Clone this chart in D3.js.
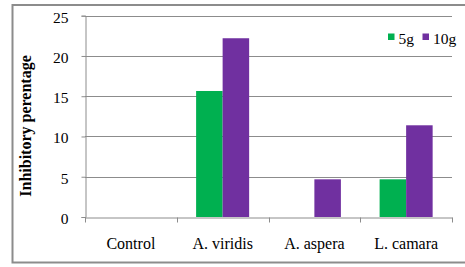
<!DOCTYPE html>
<html>
<head>
<meta charset="utf-8">
<script src="https://cdn.jsdelivr.net/npm/d3@7"></script>
<style>
  body { margin: 0; background: #fff; }
  svg text { font-family: "Liberation Serif", "Times New Roman", serif; fill: #000; }
</style>
</head>
<body>
<div id="chart"></div>
<script>
const categories = ["Control", "A. viridis", "A. aspera", "L. camara"];
const seriesNames = ["5g", "10g"];
const values5g = [0, 15.65, 0, 4.68];
const values10g = [0, 22.2, 4.68, 11.39];
const yTicks = [0, 5, 10, 15, 20, 25];
const colors = ["#00B050", "#7030A0"];

const serif = '"Liberation Serif", "Times New Roman", serif';

const width = 465;
const height = 267;
const margin = { top: 15.7, right: 13, bottom: 50, left: 85 };

const svg = d3
  .select("#chart")
  .append("svg")
  .attr("width", width)
  .attr("height", height);

// outer frame
svg
  .append("rect")
  .attr("x", 12.5)
  .attr("y", 5)
  .attr("width", 462)
  .attr("height", 257.5)
  .attr("fill", "none")
  .attr("stroke", "#8c8c8c")
  .attr("stroke-width", 2);

const x0 = d3
  .scaleBand()
  .domain(categories)
  .range([margin.left, width - margin.right]);

const x1 = d3
  .scaleBand()
  .domain(seriesNames)
  .range([x0.bandwidth() * 0.211, x0.bandwidth() * 0.789]);

const y = d3
  .scaleLinear()
  .domain([0, 25])
  .range([height - margin.bottom, margin.top]);

// gridlines
svg
  .append("g")
  .selectAll("line")
  .data(yTicks.filter((d) => d > 0))
  .join("line")
  .attr("x1", margin.left)
  .attr("x2", width - margin.right)
  .attr("y1", (d) => Math.round(y(d)) + 0.5)
  .attr("y2", (d) => Math.round(y(d)) + 0.5)
  .attr("stroke", "#8c8c8c")
  .attr("stroke-width", 1);

// bars
const rows = categories.map((c, i) => ({ cat: c, vals: [values5g[i], values10g[i]] }));
svg
  .append("g")
  .selectAll("g")
  .data(rows)
  .join("g")
  .attr("transform", (d) => `translate(${x0(d.cat)},0)`)
  .selectAll("rect")
  .data((d) => d.vals.map((v, j) => ({ key: seriesNames[j], v, j })))
  .join("rect")
  .attr("x", (d) => x1(d.key))
  .attr("width", x1.bandwidth())
  .attr("y", (d) => y(d.v))
  .attr("height", (d) => y(0) - y(d.v))
  .attr("fill", (d) => colors[d.j]);

// y axis
const yAxis = svg
  .append("g")
  .attr("transform", `translate(${margin.left + 0.5},0)`)
  .call(d3.axisLeft(y).tickValues(yTicks).tickSize(4).tickPadding(13));
yAxis.attr("font-family", null);
yAxis.select(".domain").attr("stroke", "#8c8c8c");
yAxis.selectAll(".tick line").attr("stroke", "#8c8c8c");
yAxis
  .selectAll(".tick text")
  .attr("dy", "0.42em")
  .style("font-size", "15.5px")
  .style("font-family", serif);

// x axis
const xAxis = svg
  .append("g")
  .attr("transform", `translate(0,${Math.round(y(0)) + 0.5})`)
  .call(d3.axisBottom(x0).tickSize(0).tickPadding(20));
xAxis.attr("font-family", null);
xAxis.select(".domain").attr("stroke", "#8c8c8c");
xAxis.selectAll(".tick text").style("font-size", "16px").style("font-family", serif);
xAxis
  .append("g")
  .selectAll("line")
  .data(categories.map((c) => x0(c)).concat([x0.range()[1]]))
  .join("line")
  .attr("x1", (d) => Math.round(d) + 0.5)
  .attr("x2", (d) => Math.round(d) + 0.5)
  .attr("y1", 0)
  .attr("y2", 5)
  .attr("stroke", "#8c8c8c");

// y title
svg
  .append("text")
  .attr("transform", "translate(31,126) rotate(-90)")
  .attr("text-anchor", "middle")
  .style("font-size", "16px")
  .style("font-weight", "bold")
  .style("font-family", serif)
  .text("Inhibitory perentage");

// legend
const legend = svg
  .append("g")
  .selectAll("g")
  .data(seriesNames)
  .join("g")
  .attr("transform", (d, i) => `translate(${388 + i * 34.5},0)`);
legend
  .append("rect")
  .attr("x", 0)
  .attr("y", 33.5)
  .attr("width", 6.5)
  .attr("height", 6.5)
  .attr("fill", (d, i) => colors[i]);
legend
  .append("text")
  .attr("x", 10.5)
  .attr("y", 43.5)
  .style("font-size", "15.5px")
  .style("font-family", serif)
  .text((d) => d);
</script>
</body>
</html>
